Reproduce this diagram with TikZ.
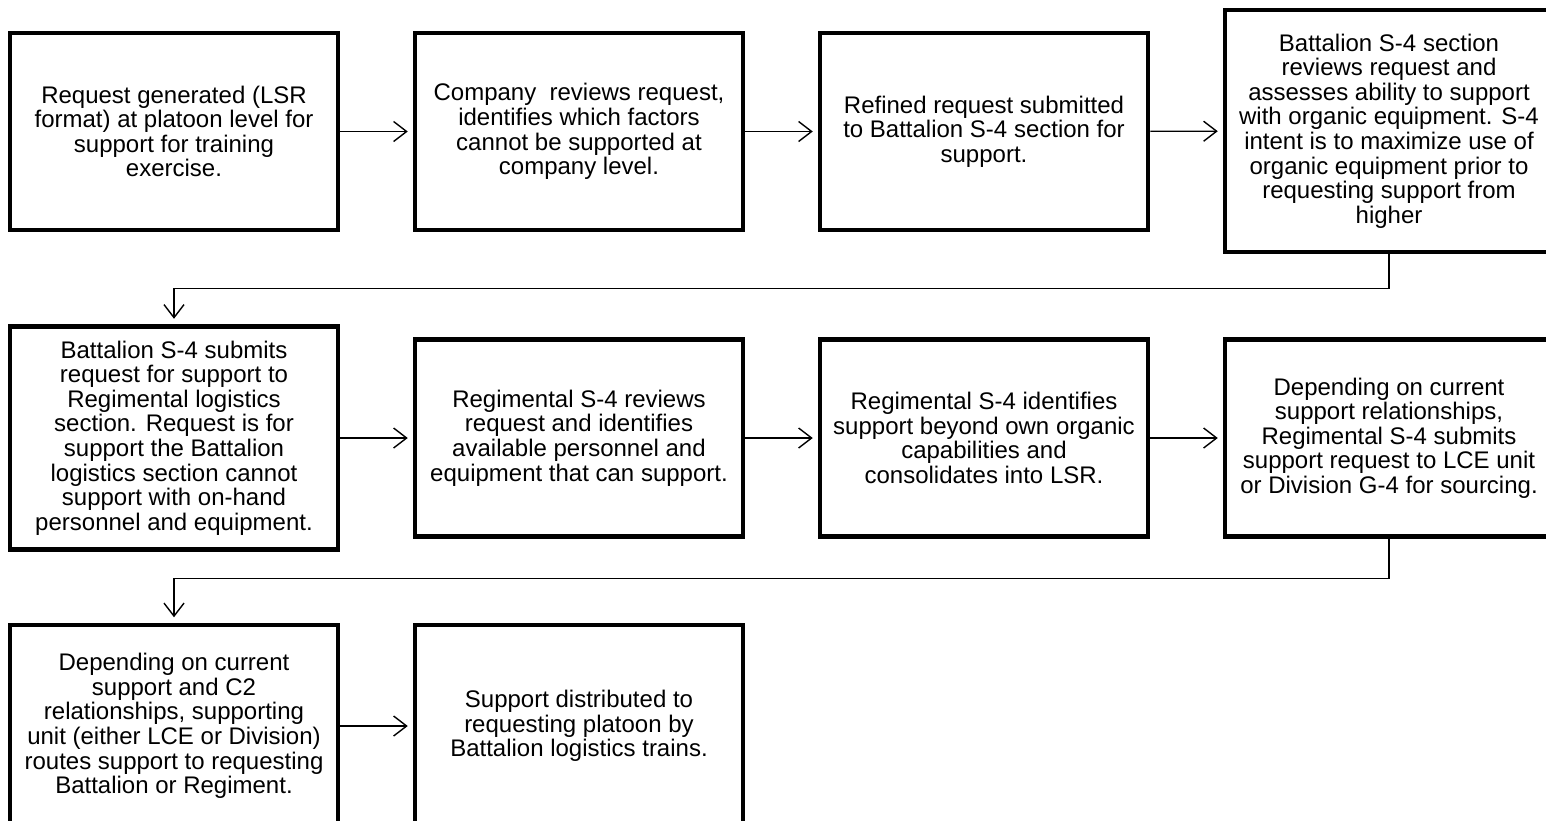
\documentclass[tikz,border=0pt]{standalone}
\usepackage{fontspec}
\setmainfont{Liberation Sans}
\usetikzlibrary{arrows.meta}
\begin{document}
\begin{tikzpicture}[x=1pt,y=-1pt,
  stepbox/.style={draw, line width=4.5pt, minimum width=328pt, minimum height=197pt,
    align=center, inner sep=0pt, font=\fontsize{24}{24.6}\selectfont},
  link/.style={line width=1.4pt,
    -{Straight Barb[length=13pt,width=20pt,line width=1.4pt]}, shorten >=5pt}]
\useasboundingbox (0,0) rectangle (1546,820);

% first row
\node[stepbox] (b1) at (174,131.5) {Request generated (LSR\\format) at platoon level for\\support for training\\exercise.};
\node[stepbox] (b2) at (579,131.5) {Company~ reviews request,\\identifies which factors\\cannot be supported at\\company level.};
\node[stepbox] (b3) at (984,131.5) {Refined request submitted\\to Battalion S-4 section for\\support.};
\node[stepbox, minimum height=242pt] (b4) at (1389,131) {Battalion S-4 section\\reviews request and\\assesses ability to support\\with organic equipment. S-4\\intent is to maximize use of\\organic equipment prior to\\requesting support from\\higher};

% second row
\node[stepbox, minimum height=223pt] (b5) at (174,438) {Battalion S-4 submits\\request for support to\\Regimental logistics\\section. Request is for\\support the Battalion\\logistics section cannot\\support with on-hand\\personnel and equipment.};
\node[stepbox] (b6) at (579,438) {Regimental S-4 reviews\\request and identifies\\available personnel and\\equipment that can support.};
\node[stepbox] (b7) at (984,438) {Regimental S-4 identifies\\support beyond own organic\\capabilities and\\consolidates into LSR.};
\node[stepbox] (b8) at (1389,438) {Depending on current\\support relationships,\\Regimental S-4 submits\\support request to LCE unit\\or Division G-4 for sourcing.};

% third row
\node[stepbox, minimum height=202pt] (b9) at (174,726) {Depending on current\\support and C2\\relationships, supporting\\unit (either LCE or Division)\\routes support to requesting\\Battalion or Regiment.};
\node[stepbox, minimum height=202pt] (b10) at (579,726) {Support distributed to\\requesting platoon by\\Battalion logistics trains.};

% flow within rows
\draw[link] (b1) -- (b2);
\draw[link] (b2) -- (b3);
\draw[link] (b3) -- (b4);
\draw[link] (b5) -- (b6);
\draw[link] (b6) -- (b7);
\draw[link] (b7) -- (b8);
\draw[link] (b9) -- (b10);

% wrap-around to the next row
\draw[link, shorten >=5.5pt] (b4.south) -- ++(0,34) -| (b5.north);
\draw[link, shorten >=5.5pt] (b8.south) -- ++(0,40) -| (b9.north);
\end{tikzpicture}
\end{document}
